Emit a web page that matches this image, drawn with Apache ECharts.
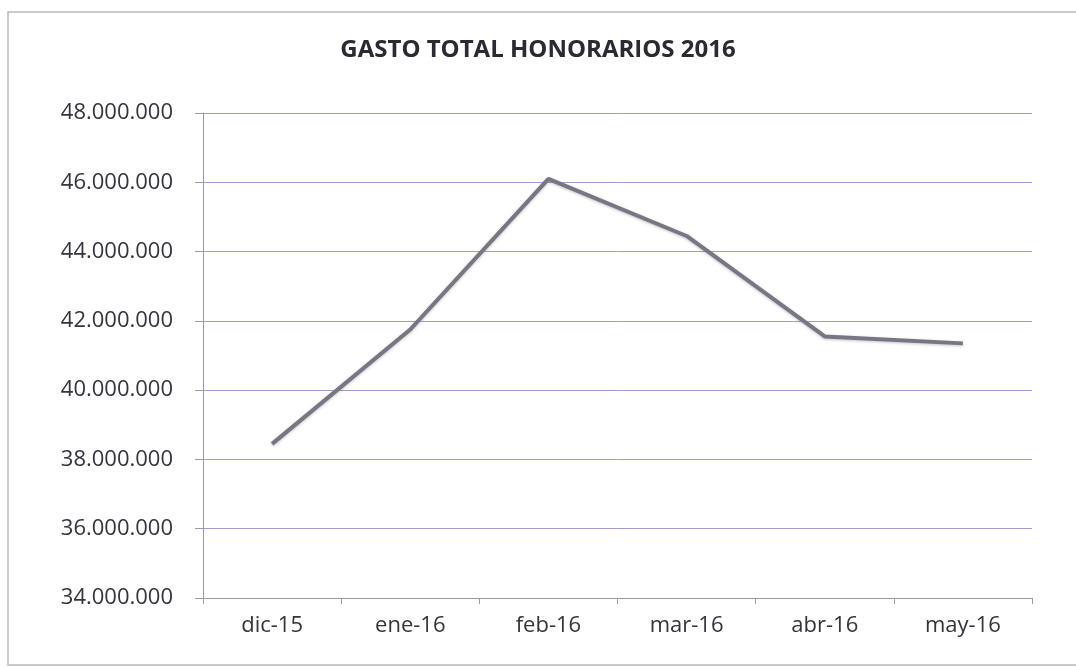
<!DOCTYPE html>
<html>
<head>
<meta charset="utf-8">
<script src="https://cdn.jsdelivr.net/npm/echarts@6/dist/echarts.min.js"></script>
<style>
  html, body { margin: 0; padding: 0; background: #fff; }
  #chart { width: 1076px; height: 667px; }
</style>
</head>
<body>
<div id="chart"></div>
<script>
var months = ['dic-15', 'ene-16', 'feb-16', 'mar-16', 'abr-16', 'may-16'];
var gasto = [38450000, 41750000, 46100000, 44450000, 41550000, 41350000];
var yTicks = [34000000, 48000000, 2000000]; // min, max, step

function fmt(v){
    return String(v).replace(/\B(?=(\d{3})+(?!\d))/g, '.');
}

var chart = echarts.init(document.getElementById('chart'));
chart.setOption({
    backgroundColor: '#fff',
    textStyle: { fontFamily: 'Open Sans' },
    title: {
        text: 'GASTO TOTAL HONORARIOS 2016',
        left: 'center',
        top: 33,
        textStyle: { fontSize: 24, fontWeight: 'bold', color: '#2a2a32', fontFamily: 'Open Sans' }
    },
    graphic: [{
        type: 'rect',
        shape: { x: 8, y: 12, width: 1100, height: 653 },
        style: { fill: 'none', stroke: '#b8b8c0', lineWidth: 1.5 },
        silent: true
    }],
    grid: { left: 203, right: 44, top: 113, bottom: 69 },
    xAxis: {
        type: 'category',
        data: months,
        boundaryGap: true,
        axisLine: { lineStyle: { color: '#9a9aa6', width: 1 } },
        axisTick: { show: true, length: 6, lineStyle: { color: '#9a9aa6' } },
        axisLabel: { fontSize: 22, color: '#34343e', margin: 17 }
    },
    yAxis: {
        type: 'value',
        min: yTicks[0],
        max: yTicks[1],
        interval: yTicks[2],
        axisLine: { show: true, lineStyle: { color: '#9a9aa6', width: 1 } },
        axisTick: { show: true, length: 8, lineStyle: { color: '#9a9aa6' } },
        axisLabel: { fontSize: 22, color: '#34343e', margin: 30, formatter: fmt },
        splitLine: { lineStyle: { color: '#a898d0', width: 1 } }
    },
    series: [{
        type: 'line',
        data: gasto,
        symbol: 'none',
        lineStyle: {
            color: '#777784', width: 4,
            shadowColor: 'rgba(90,90,100,0.35)', shadowBlur: 3, shadowOffsetY: 1
        },
        silent: true
    }]
});
</script>
</body>
</html>
